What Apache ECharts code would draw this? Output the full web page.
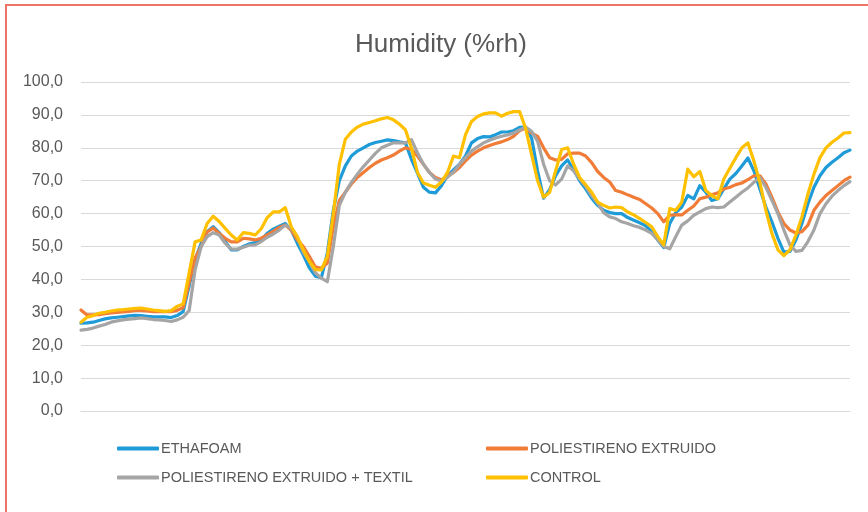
<!DOCTYPE html>
<html>
<head>
<meta charset="utf-8">
<script src="https://cdn.jsdelivr.net/npm/echarts@6/dist/echarts.min.js"></script>
<style>
html,body{margin:0;padding:0;background:#fff;}
#wrap{position:relative;width:868px;height:512px;overflow:hidden;}
#chart{position:absolute;left:0;top:0;width:868px;height:512px;}
#frame{position:absolute;left:5px;top:4px;width:900px;height:600px;border-left:2px solid #ef7468;border-top:2px solid #ef7468;pointer-events:none;}
</style>
</head>
<body>
<div id="wrap"><div id="chart"></div><div id="frame"></div></div>
<script>
const titleText = 'Humidity (%rh)';
const seriesNames = ['ETHAFOAM', 'POLIESTIRENO EXTRUIDO', 'POLIESTIRENO EXTRUIDO + TEXTIL', 'CONTROL'];
const yTickLabels = ['0,0','10,0','20,0','30,0','40,0','50,0','60,0','70,0','80,0','90,0','100,0'];

const ethafoam = [
26.7,26.8,27,27.5,28,28.3,28.5,28.7,28.9,29.1,29,28.8,28.6,28.6,28.6,28.4,29,30.2,38,46,
51,54.5,56,54.2,51.5,49,49,50,50.8,51.2,52,54,55.3,56.2,57,55,51,47.5,43.5,41,
40.5,48,61,70,74.5,77.5,79,80,81,81.6,82,82.4,82.2,81.8,81.5,76.5,72.3,68,66.5,66.3,
68.5,71.5,73.3,75,77.5,81.5,82.8,83.4,83.3,84,84.8,84.8,85.2,86.2,86.3,83,73,64.7,67.3,71.5,
74.5,76.3,73.3,70,67.5,64.7,62.5,61,60.3,60,60,58.8,58,57.2,56.3,54.5,52,49.7,57,60.3,
62,65.5,64.5,68.5,66.5,64,64.5,67.5,70.5,72.2,74.5,76.9,73,67.5,62,57.5,52.5,48.3,48.5,52,
57,63,68,71.5,74,75.6,77,78.5,79.3
];
const poliestireno = [
30.7,29.2,29.2,29.3,29.6,29.8,30,30.1,30.3,30.6,30.6,30.4,30.2,30.2,30.2,30.2,30.6,31.4,39,46.5,
50,54.4,55.6,54,52.5,51.4,51.4,52.5,52.3,52,52.5,53.5,54.6,55.8,56.5,55,52,50,47,43.8,
43.4,45,56,64,66.5,69,71,72.5,74,75.3,76.3,77,77.8,79,80,79.5,77.5,75,72.5,71,
70.2,71.5,72.5,74,76,77.8,79,80,80.7,81.3,81.8,82.5,83.5,85.2,86,84.5,83.5,80,77,76.3,
76.5,78.2,78.4,78.4,77.5,75.5,72.8,71,69.6,67,66.5,65.7,65,64.3,63,61.7,60,57.5,59.5,59.6,
59.6,61,62.3,64.5,65,65.7,66.3,67.5,68,68.8,69.3,70.3,71.5,71.5,69,65,60.5,57,55,54.1,
54.5,56.5,61,63.5,65.5,67,68.5,70,71.1
];
const poliestirenoTextil = [
24.6,24.8,25.2,25.8,26.3,27,27.4,27.7,27.9,28.1,28.3,28.1,27.8,27.7,27.5,27.2,27.7,28.5,30.5,43,
50,53,54.2,53.5,51,49.2,49.2,49.8,50.4,50.5,51.5,52.8,53.8,55,56.5,55.5,53,48.2,45.5,42,
40.4,39.3,50,62.5,66.5,69.5,72,74.3,76.3,78.3,80,80.8,81.5,81.5,81.5,82.5,78.5,75,72.5,70.5,
69.8,71,72.6,75,77,79,80.3,81.5,82.3,83,83.5,83.9,84.5,85.4,86.3,85,82,75,70,68.7,
70.5,74.5,73,70.5,68.3,65.5,63.2,60.3,59,58.5,57.5,57,56.3,55.8,55,54,52,50,49.3,53,
56.5,57.8,59.5,60.5,61.5,62,61.8,62,63.5,65,66.5,67.8,69.5,71,68,64,60,55,50.5,48.5,
48.8,51.5,55,60,63,65.3,67,68.5,69.7
];
const control = [
27,28.5,29,29.7,30,30.4,30.7,30.8,31,31.2,31.3,31,30.7,30.5,30.3,30.5,31.8,32.5,42,51.4,
52,57,59.2,57.6,55.5,53.5,52,54.2,54,53.5,55.4,58.8,60.5,60.5,61.8,56,53,49,45.5,43,
42.9,47,60,75,82.6,84.8,86.3,87.2,87.7,88.2,88.8,89.2,88.5,87.2,85.5,80,72.5,69.3,68.6,68,
69.6,72.5,77.5,77,84,88,89.5,90.3,90.6,90.6,89.6,90.5,91,91,86,78,70,65,66.5,73,
79.5,80,75,71,68.8,66.5,63.5,62.5,61.7,62,61.8,60.5,59.6,58.5,57.3,56,53,50.5,61.5,61,
63.5,73.5,71.2,72.8,67,65.5,64.5,70.5,73.8,77,80,81.5,76,69.5,61,54,49,47.2,49,53.5,
59,66,72,77,80,81.7,83,84.5,84.6
];
const categories = ethafoam.map((_, i) => String(i + 1));

const colors = ['#1f9bd8', '#f07c38', '#a5a5a5', '#ffc000'];
const seriesData = [ethafoam, poliestireno, poliestirenoTextil, control];

const chart = echarts.init(document.getElementById('chart'), null, {renderer: 'canvas'});

const legendPos = [
  {left: 117, top: 441},
  {left: 486, top: 441},
  {left: 117, top: 470},
  {left: 486, top: 470}
];

const option = {
  animation: false,
  backgroundColor: '#ffffff',
  title: {
    text: titleText,
    left: 350,
    top: 27,
    textStyle: {fontFamily: 'Liberation Sans', fontSize: 26, fontWeight: 'normal', color: '#595959'}
  },
  legend: seriesNames.map((n, i) => ({
    data: [n],
    left: legendPos[i].left,
    top: legendPos[i].top,
    icon: 'roundRect',
    itemWidth: 42,
    itemHeight: 4,
    itemGap: 0,
    padding: 0,
    selectedMode: false,
    textStyle: {fontFamily: 'Liberation Sans', fontSize: 14.5, color: '#595959', padding: [0, 0, 0, -3]}
  })),
  grid: {left: 81, right: 18, top: 82, bottom: 101, containLabel: false},
  xAxis: {
    type: 'category',
    data: categories,
    boundaryGap: false,
    axisLine: {show: true, lineStyle: {color: '#d9d9d9', width: 1}},
    axisTick: {show: false},
    axisLabel: {show: false},
    splitLine: {show: false}
  },
  yAxis: {
    type: 'value',
    min: 0,
    max: 100,
    interval: 10,
    axisLine: {show: false},
    axisTick: {show: false},
    axisLabel: {
      margin: 18,
      fontFamily: 'Liberation Sans',
      fontSize: 16,
      color: '#595959',
      formatter: v => yTickLabels[Math.round(v / 10)]
    },
    splitLine: {lineStyle: {color: '#d9d9d9', width: 1}}
  },
  series: seriesNames.map((n, i) => ({
    name: n,
    type: 'line',
    data: seriesData[i],
    showSymbol: false,
    symbol: 'none',
    smooth: false,
    lineStyle: {color: colors[i], width: 3.2, cap: 'round', join: 'round'},
    itemStyle: {color: colors[i]},
    emphasis: {disabled: true}
  }))
};
chart.setOption(option);
</script>
</body>
</html>
